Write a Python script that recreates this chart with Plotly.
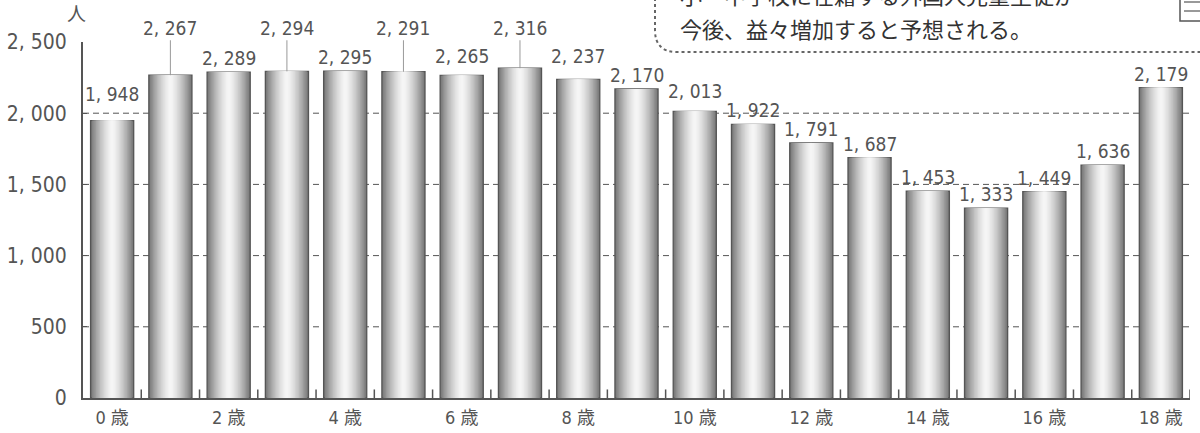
import plotly.graph_objects as go

# ---------------- data ----------------
ages = list(range(19))
age_labels = [f"{a} 歳" for a in ages]
counts = [1948, 2267, 2289, 2294, 2295, 2291, 2265, 2316, 2237, 2170,
          2013, 1922, 1791, 1687, 1453, 1333, 1449, 1636, 2179]
y_tick_vals = [0, 500, 1000, 1500, 2000, 2500]
y_tick_text = ["0", "500", "1, 000", "1, 500", "2, 000", "2, 500"]
grid_vals = [500, 1000, 1500, 2000]
x_tick_vals = [0, 2, 4, 6, 8, 10, 12, 14, 16, 18]
elevated = [1, 3, 5, 7]          # labels lifted above the plot with leader lines
note_line1 = "小・中学校に在籍する外国人児童生徒が"
note_line2 = "今後、益々増加すると予想される。"

# ---------------- layout constants ----------------
W, H = 1200, 433
ML, MR, MT, MB = 83, 10, 42, 35
PW, PH = W - ML - MR, H - MT - MB
TXT = "#555555"
NUM_FONT = "Liberation Sans Narrow, DejaVu Sans Condensed, Noto Sans CJK JP, sans-serif"
JP_FONT = "Noto Sans CJK JP"
TICK_H = 60   # height of the small boundary ticks, in axis units


def px_x(p):
    return (p - ML) / PW


def px_y(p):
    return (H - MB - p) / PH


def fmt(v):
    return f"{v:,}".replace(",", ", ")


fig = go.Figure()

# cylinder-like gradient: overlay bars of decreasing width
BAR_W = 0.74
N = 16
for k in range(N):
    d = 1 - k / N
    L = 0.97 - 0.50 * d ** 1.5
    c = int(round(L * 255))
    fig.add_trace(go.Bar(
        x=ages, y=counts, width=BAR_W * d,
        marker=dict(color=f"rgb({c},{c},{c})",
                    line=dict(color="#555555" if k == 0 else f"rgb({c},{c},{c})",
                              width=1.3 if k == 0 else 0)),
        hoverinfo="skip", showlegend=False,
    ))

# small upward ticks at the category boundaries of the x axis
tx, ty = [], []
for a in ages:
    tx += [a + 0.5, a + 0.5, None]
    ty += [0, TICK_H, None]
fig.add_trace(go.Scatter(x=tx, y=ty, mode="lines", line=dict(color="#555555", width=1.5),
                         hoverinfo="skip", showlegend=False))

# dashed gridlines behind bars
for v in grid_vals:
    fig.add_shape(type="line", xref="paper", yref="y", x0=0, x1=1, y0=v, y1=v,
                  line=dict(color="#555555", width=1, dash="6px,4px"), layer="below")

# value labels
gap = {0: 16, 6: 8, 8: 12, 10: 9}
for i, v in enumerate(counts):
    if i in elevated:
        fig.add_annotation(x=i, y=v, text=fmt(v), showarrow=True, arrowhead=0,
                           arrowwidth=1, arrowcolor="#999999", axref="x", ayref="y",
                           ax=i, ay=2600, standoff=0,
                           font=dict(family=NUM_FONT, size=19, color=TXT))
    else:
        fig.add_annotation(x=i, y=v, text=fmt(v), showarrow=False, yanchor="bottom",
                           yshift=gap.get(i, 3) - 2,
                           font=dict(family=NUM_FONT, size=19, color=TXT))

# unit label
fig.add_annotation(xref="paper", yref="paper", x=px_x(76), y=px_y(13), text="人",
                   xanchor="center", yanchor="middle",
                   showarrow=False, font=dict(family=JP_FONT, size=19, color=TXT))

# note box (dotted, rounded lower-left corner), partially cut off at the top
r = 22
fig.add_shape(type="path", xref="paper", yref="paper",
              path=(f"M {px_x(655)},{px_y(-2)} L {px_x(655)},{px_y(52 - r)} "
                    f"Q {px_x(655)},{px_y(52)} {px_x(655 + r)},{px_y(52)} "
                    f"L {px_x(1205)},{px_y(52)}"),
              line=dict(color="#666666", width=2, dash="dot"))
fig.add_annotation(xref="paper", yref="paper", x=px_x(678), y=px_y(-6), xanchor="left",
                   yanchor="middle", text=note_line1, showarrow=False,
                   font=dict(family=JP_FONT, size=22, color="#333333"))
fig.add_annotation(xref="paper", yref="paper", x=px_x(678), y=px_y(28), xanchor="left",
                   yanchor="middle", text=note_line2, showarrow=False,
                   font=dict(family=JP_FONT, size=22, color="#333333"))
# small icon box at the top-right corner
fig.add_shape(type="rect", xref="paper", yref="paper", x0=px_x(1180), x1=px_x(1210),
              y0=px_y(21), y1=px_y(-5), line=dict(color="#555555", width=1.5))
fig.add_shape(type="line", xref="paper", yref="paper", x0=px_x(1184), x1=px_x(1210),
              y0=px_y(11), y1=px_y(11), line=dict(color="#555555", width=1.2))
fig.add_shape(type="line", xref="paper", yref="paper", x0=px_x(1184), x1=px_x(1210),
              y0=px_y(2), y1=px_y(2), line=dict(color="#555555", width=1.2))

fig.update_layout(
    width=W, height=H, margin=dict(l=ML, r=MR, t=MT, b=MB, autoexpand=False),
    paper_bgcolor="white", plot_bgcolor="white",
    barmode="overlay", showlegend=False,
    xaxis=dict(range=[-0.5, 18.5], tickmode="array", tickvals=x_tick_vals,
               automargin=False,
               ticktext=[age_labels[i] for i in x_tick_vals],
               showgrid=False, zeroline=False, showline=True, linecolor="#555555",
               linewidth=2, ticks="", ticklabelstandoff=2,
               tickfont=dict(family=NUM_FONT, size=18, color=TXT)),
    yaxis=dict(range=[0, 2500], tickvals=y_tick_vals, ticktext=y_tick_text,
               automargin=False,
               showgrid=False, zeroline=False, showline=True, linecolor="#555555",
               linewidth=2, ticks="inside", ticklen=4, tickwidth=1, tickcolor="#555555",
               ticklabelstandoff=10,
               tickfont=dict(family=NUM_FONT, size=21, color=TXT)),
)

fig.write_html("out.html")
